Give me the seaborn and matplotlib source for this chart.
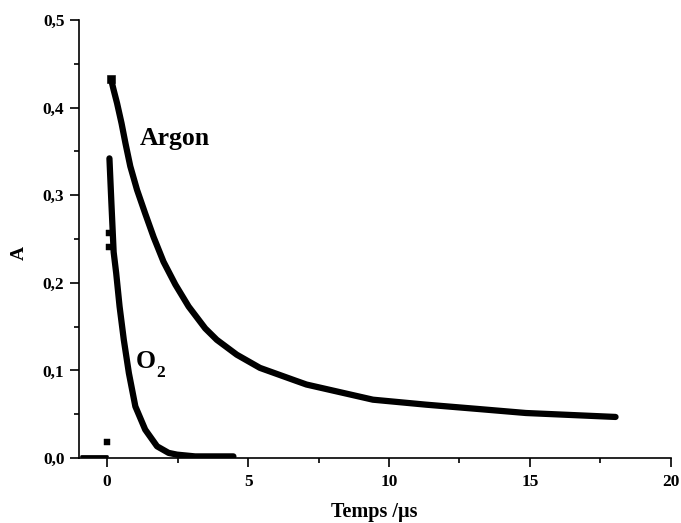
import matplotlib
matplotlib.use("Agg")
import matplotlib.pyplot as plt
import seaborn as sns
import pandas as pd
from matplotlib.ticker import FuncFormatter, MultipleLocator

# Data
argon_t = [0.14, 0.23, 0.35, 0.51, 0.65, 0.82, 1.06, 1.35, 1.65, 2.00, 2.42, 2.89, 3.48,
           3.89, 4.60, 5.42, 6.72, 7.07, 9.43, 11.32, 13.2, 14.86, 18.04]
argon_a = [0.432, 0.420, 0.405, 0.382, 0.359, 0.333, 0.306, 0.279, 0.252, 0.224, 0.198, 0.173, 0.148,
           0.135, 0.118, 0.103, 0.088, 0.084, 0.0667, 0.061, 0.056, 0.0515, 0.047]

o2_t = [0.08, 0.15, 0.23, 0.32, 0.44, 0.59, 0.77, 1.00, 1.35, 1.77, 2.18, 2.48, 3.12, 4.48]
o2_a = [0.342, 0.291, 0.235, 0.211, 0.173, 0.135, 0.097, 0.059, 0.0325, 0.0135, 0.006, 0.004, 0.002, 0.002]

base_t = [-0.94, -0.5, 0.0]
base_a = [0.002, 0.002, 0.002]

stray_t = [0.05, 0.05, 0.0]
stray_a = [0.257, 0.241, 0.018]

x_ticks = [0, 5, 10, 15, 20]
y_ticks = [0.0, 0.1, 0.2, 0.3, 0.4, 0.5]

sns.set_theme(style="ticks")
plt.rcParams['font.family'] = ['Liberation Serif', 'DejaVu Serif']
plt.rcParams['font.weight'] = 'bold'
plt.rcParams['text.color'] = 'black'
plt.rcParams['axes.labelcolor'] = 'black'
plt.rcParams['xtick.color'] = 'black'
plt.rcParams['ytick.color'] = 'black'

fig = plt.figure(figsize=(6.81, 5.23), dpi=100)
ax = fig.add_axes([0.116, 0.124, 0.869, 0.838])

df_ar = pd.DataFrame({"t": argon_t, "a": argon_a})
df_o2 = pd.DataFrame({"t": o2_t, "a": o2_a})
df_base = pd.DataFrame({"t": base_t, "a": base_a})
sns.lineplot(data=df_ar, x="t", y="a", sort=False, estimator=None, color="black",
             linewidth=4.5, ax=ax)
sns.lineplot(data=df_o2, x="t", y="a", sort=False, estimator=None, color="black",
             linewidth=4.5, ax=ax)
sns.lineplot(data=df_base, x="t", y="a", sort=False, estimator=None, color="black",
             linewidth=2.0, ax=ax)
sns.scatterplot(x=stray_t, y=stray_a, marker="s", s=16, color="black", edgecolor="black", ax=ax)
sns.scatterplot(x=[argon_t[0]], y=[argon_a[0]], marker="s", s=26, color="black", edgecolor="black", ax=ax)

ax.set_xlim(-1, 20)
ax.set_ylim(0, 0.5)
ax.set_xticks(x_ticks)
ax.set_yticks(y_ticks)
ax.xaxis.set_minor_locator(MultipleLocator(2.5))
ax.yaxis.set_minor_locator(MultipleLocator(0.05))
ax.yaxis.set_major_formatter(FuncFormatter(lambda v, p: f"{v:.1f}".replace('.', ',')))
ax.tick_params(which="major", direction="out", length=6.5, width=1.2, labelsize=12.5, pad=4)
ax.tick_params(axis="x", which="major", pad=5)
ax.tick_params(which="minor", direction="out", length=3.6, width=1.2)
for lab in ax.get_xticklabels() + ax.get_yticklabels():
    lab.set_fontweight("bold")

sns.despine(ax=ax)
for s in ["left", "bottom"]:
    ax.spines[s].set_linewidth(1.2)
    ax.spines[s].set_color("black")

ax.set_xlabel("Temps /\u00b5s", fontsize=14.5, fontweight="bold")
ax.set_ylabel("A", fontsize=14, fontweight="bold")
ax.xaxis.set_label_coords(0.499, -0.100)
ax.yaxis.set_label_coords(-0.086, 0.469)

ax.text(1.15, 0.357, "Argon", fontsize=18.5, fontweight="bold", ha="left", va="baseline")
ax.text(1.03, 0.103, "O", fontsize=18.5, fontweight="bold", ha="left", va="baseline")
ax.text(1.74, 0.093, "2", fontsize=12.5, fontweight="bold", ha="left", va="baseline")

fig.savefig("out.png", dpi=100)
